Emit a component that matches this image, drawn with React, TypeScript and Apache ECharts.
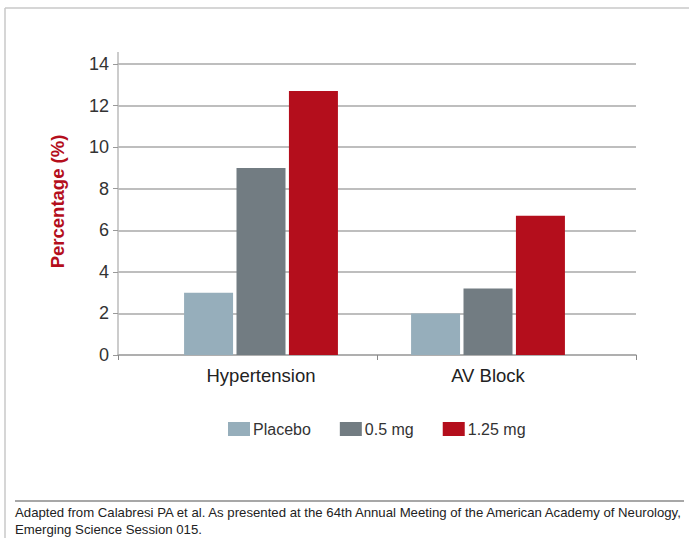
import React, { useEffect, useRef } from "react";
import * as echarts from "echarts";

const categories = ["Hypertension", "AV Block"];
const seriesNames = ["Placebo", "0.5 mg", "1.25 mg"];
const placebo = [3.0, 2.0];
const mg05 = [9.0, 3.2];
const mg125 = [12.7, 6.7];
const yTicks = { min: 0, max: 14, interval: 2 };
const yTitle = "Percentage (%)";
const footnote1 =
  "Adapted from Calabresi PA et al. As presented at the 64th Annual Meeting of the American Academy of Neurology,";
const footnote2 = "Emerging Science Session 015.";

const colors = ["#96AEBB", "#727C82", "#B40E1C"];

export default function App() {
  const ref = useRef<HTMLDivElement>(null);
  useEffect(() => {
    if (!ref.current) return;
    const chart = echarts.init(ref.current, null, { renderer: "svg" });
    const font = "Liberation Sans, Arial, sans-serif";
    const values = [placebo, mg05, mg125];
    chart.setOption({
      animation: false,
      backgroundColor: "#ffffff",
      textStyle: { fontFamily: font },
      grid: [
        { left: 118, right: 53, top: 64, bottom: 191 },
        { left: 147.5, right: 87.5, top: 64, bottom: 191 },
      ],
      legend: {
        left: 223,
        top: 416,
        itemWidth: 22,
        itemHeight: 14,
        itemGap: 29,
        icon: "rect",
        data: seriesNames,
        textStyle: { fontSize: 16, color: "#333", fontFamily: font, padding: [0, 0, 0, -2] },
      },
      xAxis: [
        {
          type: "category",
          gridIndex: 0,
          data: ["", ""],
          axisLine: { show: true, lineStyle: { color: "#aaaaaa", width: 1.5 } },
          axisTick: { show: true, length: 5, lineStyle: { color: "#888" } },
          axisLabel: { show: false },
        },
        {
          type: "category",
          gridIndex: 1,
          data: categories,
          axisLine: { show: false },
          axisTick: { show: false },
          axisLabel: { fontSize: 18.5, color: "#222", margin: 11, fontFamily: font },
        },
      ],
      yAxis: [
        {
          type: "value",
          gridIndex: 0,
          min: yTicks.min,
          max: yTicks.max,
          interval: yTicks.interval,
          axisLine: { show: true, lineStyle: { color: "#bbbbbb", width: 1.5 } },
          axisTick: { show: true, length: 5, lineStyle: { color: "#999" } },
          axisLabel: { fontSize: 18, color: "#333", margin: 9, fontFamily: font },
          splitLine: { show: true, lineStyle: { color: "#a8a8a8", width: 1.5 } },
        },
        {
          type: "value",
          gridIndex: 1,
          min: yTicks.min,
          max: yTicks.max,
          interval: yTicks.interval,
          show: false,
          splitLine: { show: false },
        },
      ],
      series: seriesNames.map((name, i) => ({
        name,
        type: "bar",
        xAxisIndex: 1,
        yAxisIndex: 1,
        barWidth: 49,
        barGap: "7%",
        itemStyle: { color: colors[i] },
        data: values[i],
      })),
      graphic: [
        { type: "line", shape: { x1: 5, y1: 8, x2: 689, y2: 8 }, style: { stroke: "#c8c8c8", lineWidth: 1.5 } },
        { type: "line", shape: { x1: 5, y1: 8, x2: 5, y2: 538 }, style: { stroke: "#c8c8c8", lineWidth: 1.5 } },
        { type: "line", shape: { x1: 118, y1: 52, x2: 118, y2: 64 }, style: { stroke: "#bbbbbb", lineWidth: 1.5 } },
        { type: "line", shape: { x1: 15, y1: 501, x2: 684, y2: 501 }, style: { stroke: "#8a8a8a", lineWidth: 1.5 } },
        {
          type: "text",
          x: 57.5,
          y: 201.5,
          rotation: Math.PI / 2,
          style: {
            text: yTitle,
            fontSize: 18.5,
            fontWeight: "bold",
            fill: "#B40E1C",
            fontFamily: font,
            align: "center",
            verticalAlign: "middle",
          },
        },
        {
          type: "text",
          x: 15,
          y: 506,
          style: { text: footnote1, fontSize: 13.2, fill: "#222", fontFamily: font },
        },
        {
          type: "text",
          x: 15,
          y: 523,
          style: { text: footnote2, fontSize: 13.2, fill: "#222", fontFamily: font },
        },
      ],
    });
    return () => chart.dispose();
  }, []);
  return (
    <div
      ref={ref}
      style={{ position: "fixed", left: 0, top: 0, width: 689, height: 546 }}
    />
  );
}
